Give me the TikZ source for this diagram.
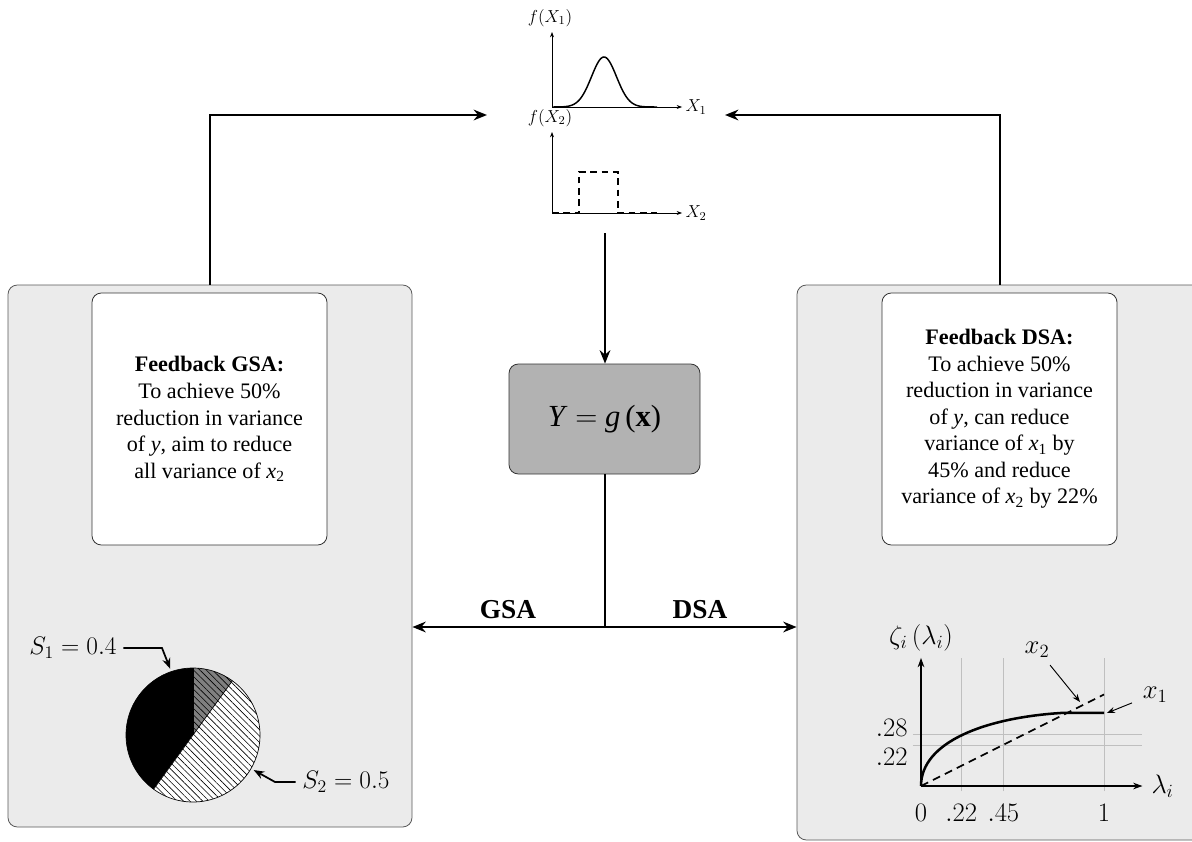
\RequirePackage{fix-cm}
\documentclass[tikz,border=0pt]{standalone}
\usepackage[no-math]{fontspec}
\setmainfont{Liberation Serif}
\usetikzlibrary{arrows.meta,patterns.meta}
\begin{document}
\begin{tikzpicture}[x=0.75pt,y=-0.75pt,
  outerbox/.style={draw=black!65, fill=black!8, rounded corners=7pt, line width=0.6pt, inner sep=0pt},
  innerbox/.style={draw=black!80, fill=white, rounded corners=7pt, line width=0.6pt, inner sep=0pt, align=center, font=\fontsize{16.6}{19.9}\selectfont},
  funcbox/.style={draw=black!80, fill=black!30, rounded corners=7pt, line width=0.6pt, inner sep=0pt, font=\fontsize{23}{27}\selectfont},
  flow/.style={line width=1.9pt, -{Stealth[length=10pt,width=8pt]}},
  flowline/.style={line width=1.9pt},
  salab/.style={font=\fontsize{20.5}{24}\selectfont\bfseries},
  axis/.style={line width=0.5pt, -{Stealth[length=4pt,width=3pt]}},
  plotlab/.style={font=\fontsize{13}{15}\selectfont, inner sep=1pt},
  pielab/.style={font=\fontsize{19}{23}\selectfont, inner sep=5pt},
  glab/.style={font=\fontsize{20}{24}\selectfont, inner sep=1pt},
  callout/.style={line width=1.3pt, -{Stealth[length=8pt,width=6pt]}},
  thinarrow/.style={line width=0.7pt, -{Stealth[length=6pt,width=4.5pt]}},
  gridl/.style={black!25, line width=0.6pt},
  gaxis/.style={line width=0.9pt, -{Stealth[length=7pt,width=5pt]}}
]
\path[use as bounding box] (0,0) rectangle (1192,842);
\clip (0,0) rectangle (1192,842);

% outer panels
\node[outerbox, minimum width=303pt, minimum height=406.5pt] (lo) at (210,556) {};
\node[outerbox, minimum width=304.5pt, minimum height=416.25pt] (ro) at (1000,562.5) {};

% inner feedback boxes
\node[innerbox, minimum width=176.25pt, minimum height=189pt] (li) at (209.5,419)
  {\textbf{Feedback GSA:}\\To achieve 50\%\\reduction in variance\\of \textit{y}, aim to reduce\\all variance of \textit{x}\textsubscript{2}};
\node[innerbox, minimum width=176.25pt, minimum height=189pt] (ri) at (999.5,419)
  {\textbf{Feedback DSA:}\\To achieve 50\%\\reduction in variance\\of \textit{y}, can reduce\\variance of \textit{x}\textsubscript{1} by\\45\% and reduce\\variance of \textit{x}\textsubscript{2} by 22\%};

% function box
\node[funcbox, minimum width=143.25pt, minimum height=82.5pt] (fb) at (604.5,419)
  {\textit{Y} $=$ \textit{g}\,(\textbf{x})};

% connectors
\coordinate (plotL) at (487,115);
\coordinate (plotR) at (725,115);
\coordinate (plotB) at (605,233);
\coordinate (junc) at (605,627);
\draw[flow] (lo.north) |- (plotL);
\draw[flow] (ro.north) |- (plotR);
\draw[flow] (plotB) -- (plotB |- fb.north);
\draw[flowline] (plotB |- fb.south) -- (junc);
\draw[flow] (junc) -- (junc -| lo.east);
\draw[flow] (junc) -- (junc -| ro.west);
\node[salab] (gsa) at (508,610) {GSA};
\node[salab] (dsa) at (700,610) {DSA};

% top plots
\draw[axis] (552,107) -- (552,32);
\draw[axis] (552,107) -- (682,107);
\draw[line width=1.1pt] plot[domain=552:657, samples=90] (\x, {107-50*exp(-0.5*((\x-604)/12.5)^2)});
\node[plotlab] (f1) at (550,18) {$f(X_1)$};
\node[plotlab, anchor=west] (x1ax) at (684,107) {$X_1$};
\draw[axis] (552,213) -- (552,132);
\draw[axis] (552,213) -- (682,213);
\draw[line width=1pt, dash pattern=on 5pt off 3.5pt] (552,213) -- (579,213) -- (579,172) -- (618,172) -- (618,213) -- (657,213);
\node[plotlab] (f2) at (550,118) {$f(X_2)$};
\node[plotlab, anchor=west] (x2ax) at (684,213) {$X_2$};

% pie chart
\begin{scope}[shift={(193,735)}, y=0.75pt]
  \fill[black] (0,0) -- (90:67) arc[start angle=90, end angle=234, radius=67] -- cycle;
  \fill[white] (0,0) -- (234:67) arc[start angle=234, end angle=414, radius=67] -- cycle;
  \path[pattern={Lines[angle=-45, distance=3.4pt, line width=0.45pt]}, pattern color=black]
    (0,0) -- (234:67) arc[start angle=234, end angle=414, radius=67] -- cycle;
  \fill[black!50] (0,0) -- (54:67) arc[start angle=54, end angle=90, radius=67] -- cycle;
  \path[pattern={Lines[angle=-45, distance=3.4pt, line width=0.45pt]}, pattern color=black]
    (0,0) -- (54:67) arc[start angle=54, end angle=90, radius=67] -- cycle;
  \draw[line width=0.5pt] (0,0) circle[radius=67];
  \draw[line width=0.5pt] (0,0) -- (90:67);
  \draw[line width=0.5pt] (234:67) -- (54:67);
  \coordinate (s1tip) at (109:70);
  \coordinate (s2tip) at (-30:70);
\end{scope}
\node[pielab] (s1) at (73,648) {$S_1 = 0.4$};
\node[pielab] (s2) at (346,782) {$S_2 = 0.5$};
\coordinate (s1bend) at (162,648);
\coordinate (s2bend) at (275,782);
\draw[callout] (s1.east) -- (s1bend) -- (s1tip);
\draw[callout] (s2.west) -- (s2bend) -- (s2tip);

% DSA graph
\begin{scope}[shift={(921,786)}, x=137.25pt, y=137.25pt]
  \draw[gridl] (0.22,-0.03) -- (0.22,0.70);
  \draw[gridl] (0.45,-0.03) -- (0.45,0.70);
  \draw[gridl] (1,-0.03) -- (1,0.70);
  \draw[gridl] (-0.045,0.28) -- (1.21,0.28);
  \draw[gridl] (-0.045,0.22) -- (1.21,0.22);
  \draw[gaxis] (0,0) -- (0,0.70);
  \draw[gaxis] (0,0) -- (1.21,0);
  \draw[line width=1.9pt] (0,0) .. controls (0,0.24) and (0.35,0.375) .. (0.78,0.4) -- (1,0.4);
  \draw[line width=1.3pt, dash pattern=on 6pt off 4pt] (0,0) -- (1,0.5);
  \node[glab] (t0) at (0,-0.148) {$0$};
  \node[glab] (t22) at (0.22,-0.148) {$.22$};
  \node[glab] (t45) at (0.45,-0.148) {$.45$};
  \node[glab] (t1) at (1,-0.148) {$1$};
  \node[glab, anchor=east] (v28) at (-0.065,0.32) {$.28$};
  \node[glab, anchor=east] (v22) at (-0.065,0.16) {$.22$};
  \node[glab] (zeta) at (0,0.81) {$\zeta_i\left(\lambda_i\right)$};
  \node[glab] (lam) at (1.32,0) {$\lambda_i$};
  \node[glab] (x2lab) at (0.634,0.743) {$x_2$};
  \node[glab] (x1lab) at (1.279,0.497) {$x_1$};
  \coordinate (x2a) at (0.705,0.661);
  \coordinate (x2b) at (0.869,0.459);
  \coordinate (x1a) at (1.153,0.454);
  \coordinate (x1b) at (1.016,0.399);
  \draw[thinarrow] (x2a) -- (x2b);
  \draw[thinarrow] (x1a) -- (x1b);
\end{scope}
\end{tikzpicture}
\end{document}
